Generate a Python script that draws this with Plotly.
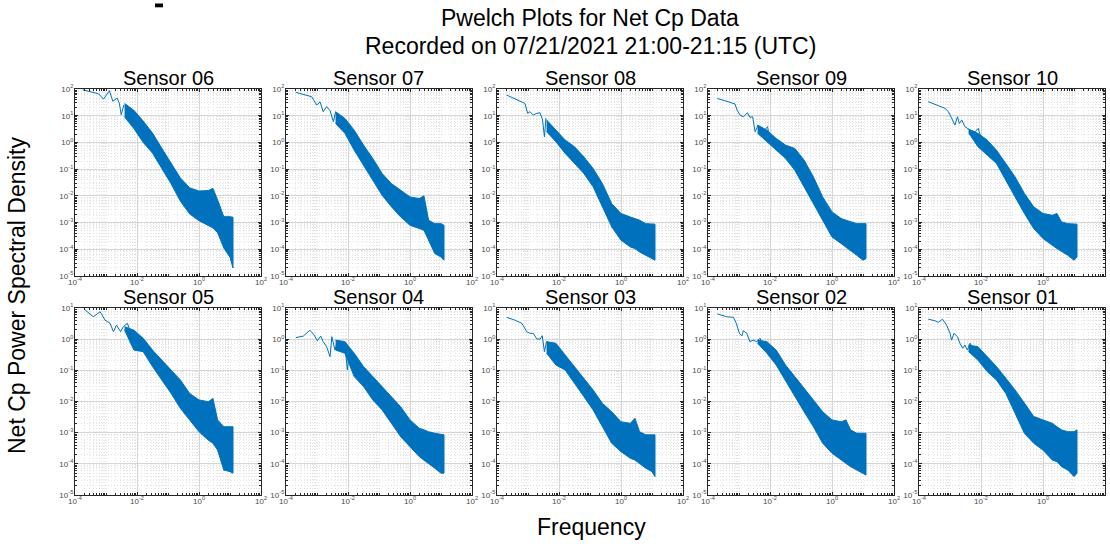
import numpy as np
import plotly.graph_objects as go

# ---------------- data (values in log10 units) ----------------
SENSORS_TOP = ["Sensor 06", "Sensor 07", "Sensor 08", "Sensor 09", "Sensor 10"]
SENSORS_BOTTOM = ["Sensor 05", "Sensor 04", "Sensor 03", "Sensor 02", "Sensor 01"]

# frequencies (log10 Hz) at which the dense noisy band's upper / lower edges were read
BAND_LOG10_FREQ = [-2.4, -2.1, -1.8, -1.5, -1.2, -0.9, -0.6, -0.3, 0.0, 0.3, 0.45, 0.6, 0.8, 1.0, 1.097]

S06_LINE_LOG10_F = [-3.75, -3.46, -3.24, -3.08, -2.89, -2.78, -2.64, -2.57, -2.51, -2.42]
S06_LINE_LOG10_P = [1.97, 1.87, 1.82, 1.62, 1.94, 1.54, 1.66, 1.47, 1.04, 1.41]
S06_UPPER_LOG10_P = [1.46, 1.20, 0.80, 0.35, -0.22, -0.80, -1.33, -1.70, -1.82, -1.80, -1.72, -2.15, -2.78, -2.78, -2.80]
S06_LOWER_LOG10_P = [0.95, 0.52, 0.00, -0.40, -0.97, -1.55, -2.20, -2.68, -2.93, -3.12, -3.20, -3.38, -3.95, -4.30, -4.70]

S07_LINE_LOG10_F = [-3.68, -3.44, -3.17, -3.01, -2.90, -2.80, -2.69, -2.58, -2.47, -2.40]
S07_LINE_LOG10_P = [1.875, 1.81, 1.71, 1.40, 1.52, 1.15, 1.34, 1.19, 0.78, 1.15]
S07_UPPER_LOG10_P = [1.15, 0.90, 0.46, -0.10, -0.60, -1.16, -1.54, -1.79, -2.04, -2.10, -2.00, -2.91, -3.04, -3.04, -3.10]
S07_LOWER_LOG10_P = [0.71, 0.34, -0.29, -0.85, -1.41, -1.975, -2.41, -2.79, -3.10, -3.225, -3.29, -3.66, -4.16, -4.29, -4.41]

S08_LINE_LOG10_F = [-3.69, -3.47, -3.20, -3.10, -3.01, -2.94, -2.83, -2.72, -2.61, -2.53, -2.47, -2.42]
S08_LINE_LOG10_P = [1.775, 1.65, 1.525, 1.46, 1.09, 1.15, 1.025, 1.09, 1.11, 0.84, 0.21, 0.91]
S08_UPPER_LOG10_P = [0.84, 0.46, 0.09, -0.16, -0.54, -0.975, -1.54, -2.29, -2.66, -2.79, -2.85, -2.91, -3.04, -3.04, -3.06]
S08_LOWER_LOG10_P = [0.40, 0.025, -0.41, -0.79, -1.16, -1.66, -2.41, -3.16, -3.66, -3.91, -3.975, -4.10, -4.225, -4.35, -4.41]

S09_LINE_LOG10_F = [-3.70, -3.13, -3.06, -2.97, -2.86, -2.73, -2.65, -2.56, -2.48, -2.38, -2.30, -2.22, -2.08, -2.00]
S09_LINE_LOG10_P = [1.65, 1.44, 1.21, 1.03, 0.96, 1.11, 0.94, 0.96, 0.40, 0.65, 0.34, 0.40, 0.59, 0.09]
S09_UPPER_LOG10_P = [0.65, 0.46, 0.15, -0.10, -0.225, -0.66, -1.29, -2.04, -2.60, -2.85, -2.91, -2.975, -3.04, -3.04, -3.04]
S09_LOWER_LOG10_P = [0.34, 0.025, -0.29, -0.60, -1.04, -1.66, -2.29, -2.91, -3.54, -3.79, -3.91, -4.04, -4.225, -4.41, -4.35]

S10_LINE_LOG10_F = [-3.70, -3.43, -3.16, -3.05, -2.95, -2.84, -2.76, -2.70, -2.62, -2.52, -2.35, -2.19, -2.09, -2.01]
S10_LINE_LOG10_P = [1.525, 1.40, 1.275, 1.15, 0.90, 0.65, 0.96, 0.71, 0.84, 0.59, 0.46, 0.40, 0.525, 0.21]
S10_UPPER_LOG10_P = [0.49, 0.34, 0.09, -0.29, -0.79, -1.29, -1.91, -2.41, -2.66, -2.725, -2.66, -2.975, -3.04, -3.04, -3.06]
S10_LOWER_LOG10_P = [0.36, -0.16, -0.475, -0.79, -1.41, -2.04, -2.66, -3.225, -3.60, -3.85, -3.975, -4.10, -4.225, -4.41, -4.29]

S05_LINE_LOG10_F = [-3.70, -3.41, -3.19, -3.03, -2.87, -2.76, -2.66, -2.53, -2.44, -2.31, -2.23]
S05_LINE_LOG10_P = [0.96, 0.72, 0.88, 0.61, 0.51, 0.24, 0.45, 0.24, 0.40, 0.51, 0.29]
S05_UPPER_LOG10_P = [0.40, 0.29, 0.03, -0.35, -0.67, -0.99, -1.31, -1.74, -1.95, -2.005, -1.90, -2.59, -2.81, -2.81, -2.81]
S05_LOWER_LOG10_P = [0.29, -0.35, -0.40, -0.88, -1.31, -1.74, -2.22, -2.59, -2.97, -3.24, -3.34, -3.56, -4.20, -4.25, -4.30]

S04_LINE_LOG10_F = [-3.68, -3.44, -3.23, -3.09, -2.99, -2.88, -2.80, -2.69, -2.58, -2.52, -2.42, -2.33, -2.26, -2.17, -2.10, -2.02, -1.96]
S04_LINE_LOG10_P = [0.05, 0.10, 0.29, 0.13, -0.05, 0.10, -0.08, -0.24, -0.56, 0.08, -0.35, -0.03, -0.24, -0.08, -0.19, -0.99, -0.35]
S04_UPPER_LOG10_P = [-0.03, -0.08, -0.45, -0.88, -1.20, -1.52, -1.84, -2.17, -2.59, -2.86, -2.91, -2.97, -3.02, -3.07, -3.07]
S04_LOWER_LOG10_P = [-0.35, -0.45, -1.20, -1.52, -1.95, -2.27, -2.70, -3.13, -3.45, -3.77, -3.88, -3.98, -4.14, -4.30, -4.30]

S03_LINE_LOG10_F = [-3.69, -3.42, -3.20, -3.04, -2.94, -2.83, -2.72, -2.61, -2.54, -2.47, -2.40, -2.29]
S03_LINE_LOG10_P = [0.70, 0.61, 0.51, 0.24, 0.19, 0.19, 0.01, 0.00, 0.11, -0.40, -0.08, -0.13]
S03_UPPER_LOG10_P = [-0.08, -0.13, -0.51, -0.88, -1.26, -1.63, -2.06, -2.33, -2.65, -2.70, -2.54, -2.97, -3.07, -3.07, -3.07]
S03_LOWER_LOG10_P = [-0.45, -0.83, -0.99, -1.42, -1.84, -2.27, -2.81, -3.34, -3.61, -3.82, -3.88, -3.98, -4.14, -4.25, -4.41]

S02_LINE_LOG10_F = [-3.70, -3.40, -3.18, -3.08, -2.99, -2.91, -2.86, -2.75, -2.65, -2.54, -2.43, -2.32, -2.22, -2.11, -2.00]
S02_LINE_LOG10_P = [0.81, 0.72, 0.70, 0.49, 0.19, 0.10, 0.27, 0.19, -0.08, -0.03, -0.08, 0.03, -0.24, -0.16, -0.24]
S02_UPPER_LOG10_P = [-0.03, -0.08, -0.35, -0.83, -1.20, -1.58, -1.95, -2.33, -2.59, -2.65, -2.59, -2.91, -3.02, -3.02, -3.02]
S02_LOWER_LOG10_P = [-0.13, -0.45, -0.83, -1.31, -1.84, -2.33, -2.81, -3.34, -3.66, -3.88, -3.98, -4.09, -4.20, -4.30, -4.36]

S01_LINE_LOG10_F = [-3.70, -3.48, -3.38, -3.24, -3.11, -3.00, -2.95, -2.87, -2.76, -2.68, -2.59, -2.52, -2.44, -2.35, -2.25, -2.14]
S01_LINE_LOG10_P = [0.64, 0.59, 0.54, 0.64, 0.45, 0.19, -0.03, 0.19, 0.08, -0.13, -0.29, -0.19, -0.35, -0.13, -0.35, -0.24]
S01_UPPER_LOG10_P = [-0.19, -0.24, -0.56, -0.88, -1.25, -1.63, -2.05, -2.48, -2.59, -2.70, -2.81, -2.91, -2.97, -2.97, -2.91]
S01_LOWER_LOG10_P = [-0.40, -0.67, -1.04, -1.31, -1.74, -2.38, -3.02, -3.34, -3.56, -3.88, -3.93, -4.09, -4.20, -4.41, -4.30]

X_TICK_EXP = [-4, -2, 0, 2]
Y_TICK_EXP_TOP = [-5, -4, -3, -2, -1, 0, 1, 2]
Y_TICK_EXP_BOTTOM = [-5, -4, -3, -2, -1, 0, 1]

TITLE_LINE1 = "Pwelch Plots for Net Cp Data"
TITLE_LINE2 = "Recorded on 07/21/2021 21:00-21:15 (UTC)"
Y_LABEL = "Net Cp Power Spectral Density"
X_LABEL = "Frequency"

SERIES = {
    "Sensor 06": (S06_LINE_LOG10_F, S06_LINE_LOG10_P, S06_UPPER_LOG10_P, S06_LOWER_LOG10_P),
    "Sensor 07": (S07_LINE_LOG10_F, S07_LINE_LOG10_P, S07_UPPER_LOG10_P, S07_LOWER_LOG10_P),
    "Sensor 08": (S08_LINE_LOG10_F, S08_LINE_LOG10_P, S08_UPPER_LOG10_P, S08_LOWER_LOG10_P),
    "Sensor 09": (S09_LINE_LOG10_F, S09_LINE_LOG10_P, S09_UPPER_LOG10_P, S09_LOWER_LOG10_P),
    "Sensor 10": (S10_LINE_LOG10_F, S10_LINE_LOG10_P, S10_UPPER_LOG10_P, S10_LOWER_LOG10_P),
    "Sensor 05": (S05_LINE_LOG10_F, S05_LINE_LOG10_P, S05_UPPER_LOG10_P, S05_LOWER_LOG10_P),
    "Sensor 04": (S04_LINE_LOG10_F, S04_LINE_LOG10_P, S04_UPPER_LOG10_P, S04_LOWER_LOG10_P),
    "Sensor 03": (S03_LINE_LOG10_F, S03_LINE_LOG10_P, S03_UPPER_LOG10_P, S03_LOWER_LOG10_P),
    "Sensor 02": (S02_LINE_LOG10_F, S02_LINE_LOG10_P, S02_UPPER_LOG10_P, S02_LOWER_LOG10_P),
    "Sensor 01": (S01_LINE_LOG10_F, S01_LINE_LOG10_P, S01_UPPER_LOG10_P, S01_LOWER_LOG10_P),
}

# ---------------- styling / layout ----------------
W, H = 1110, 544
BLUE = "#0072BD"
FONT = "Liberation Sans, Arial, sans-serif"
COL_LEFT = [75, 286, 497, 708, 919]
PANEL_W = 186
ROW_TOP = [89, 308]
ROW_BOT = [276, 495]


def pow_label(e):
    return "10<sup>%d</sup>" % e


fig = go.Figure()
annotations = []
panel_rows = [SENSORS_TOP, SENSORS_BOTTOM]
idx = 0
for r, names in enumerate(panel_rows):
    y_exps = Y_TICK_EXP_TOP if r == 0 else Y_TICK_EXP_BOTTOM
    for c, name in enumerate(names):
        idx += 1
        sfx = "" if idx == 1 else str(idx)
        lf, lp, up, lo = SERIES[name]
        bf = 10.0 ** np.array(BAND_LOG10_FREQ)
        bu = 10.0 ** np.array(up)
        bl = 10.0 ** np.array(lo)
        fig.add_trace(go.Scatter(
            x=np.concatenate([bf, bf[::-1]]), y=np.concatenate([bu, bl[::-1]]),
            fill="toself", fillcolor=BLUE, mode="lines",
            line=dict(color=BLUE, width=1), xaxis="x" + sfx, yaxis="y" + sfx,
            showlegend=False, hoverinfo="skip"))
        fig.add_trace(go.Scatter(
            x=10.0 ** np.array(lf), y=10.0 ** np.array(lp), mode="lines",
            line=dict(color=BLUE, width=1), xaxis="x" + sfx, yaxis="y" + sfx,
            showlegend=False))

        x0 = COL_LEFT[c] / W
        x1 = (COL_LEFT[c] + PANEL_W) / W
        y0 = 1 - ROW_BOT[r] / H
        y1 = 1 - ROW_TOP[r] / H
        minor = dict(tickmode="linear", dtick="D1", ticks="inside", ticklen=2,
                     tickcolor="#262626", showgrid=True, gridcolor="rgb(228,228,228)",
                     griddash="1px,2px", gridwidth=1)
        common = dict(type="log", showline=True, linecolor="#262626", linewidth=1.3,
                      mirror="allticks", ticks="inside", ticklen=3, tickcolor="#262626",
                      showgrid=True, gridcolor="rgb(214,214,214)", gridwidth=1,
                      zeroline=False, tickfont=dict(size=8, color="#4a4a4a", family=FONT),
                      tickmode="array", automargin=False, minor=minor)
        fig.layout["xaxis" + sfx] = dict(
            common, domain=[x0, x1], anchor="y" + sfx, range=[-4, 2], ticklabelstandoff=-2,
            tickvals=[10.0 ** e for e in X_TICK_EXP], ticktext=[pow_label(e) for e in X_TICK_EXP])
        fig.layout["yaxis" + sfx] = dict(
            common, domain=[y0, y1], anchor="x" + sfx, range=[-5, y_exps[-1]], ticklabelstandoff=-1,
            tickvals=[10.0 ** e for e in y_exps], ticktext=[pow_label(e) for e in y_exps])
        annotations.append(dict(text=name, x=(x0 + x1) / 2, y=y1 - 2.0 / H, xref="paper", yref="paper",
                                xanchor="center", yanchor="bottom", showarrow=False,
                                font=dict(size=20, color="black", family=FONT)))

annotations += [
    dict(text=TITLE_LINE1, x=590 / W, y=1 - 18 / H, xref="paper", yref="paper", xanchor="center",
         yanchor="middle", showarrow=False, font=dict(size=23, color="black", family=FONT)),
    dict(text=TITLE_LINE2, x=590 / W, y=1 - 46 / H, xref="paper", yref="paper", xanchor="center",
         yanchor="middle", showarrow=False, font=dict(size=23, color="black", family=FONT)),
    dict(text=Y_LABEL, x=17 / W, y=1 - 295 / H, xref="paper", yref="paper", xanchor="center",
         yanchor="middle", textangle=-90, showarrow=False, font=dict(size=23, color="black", family=FONT)),
    dict(text=X_LABEL, x=591 / W, y=1 - 527 / H, xref="paper", yref="paper", xanchor="center",
         yanchor="middle", showarrow=False, font=dict(size=23, color="black", family=FONT)),
]

fig.update_layout(
    width=W, height=H, margin=dict(l=0, r=0, t=0, b=0, autoexpand=False),
    paper_bgcolor="white", plot_bgcolor="white", annotations=annotations,
    font=dict(family=FONT),
    shapes=[dict(type="rect", xref="paper", yref="paper", x0=155 / W, x1=163 / W,
                 y0=1 - 7.3 / H, y1=1 - 3.5 / H, fillcolor="black", line=dict(width=0))],
)

fig.write_html("out.html", config={"displayModeBar": False},
               post_script="document.body.style.margin='0px';")
